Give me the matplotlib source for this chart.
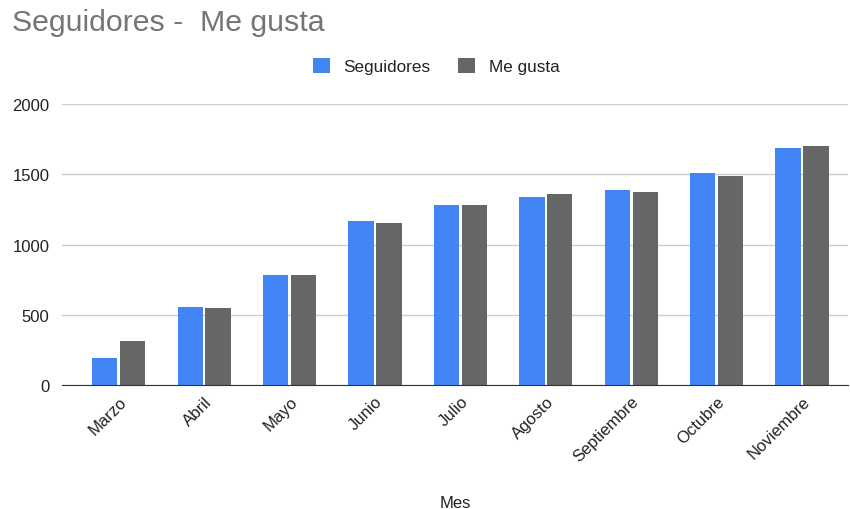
import numpy as np
import matplotlib
matplotlib.use('Agg')
import matplotlib.pyplot as plt

plt.rcParams['font.family'] = ['Liberation Sans', 'DejaVu Sans']

meses = ['Marzo', 'Abril', 'Mayo', 'Junio', 'Julio', 'Agosto',
         'Septiembre', 'Octubre', 'Noviembre']
seguidores = [195, 558, 782, 1168, 1281, 1335, 1390, 1508, 1690]
me_gusta = [312, 546, 782, 1153, 1281, 1359, 1371, 1487, 1702]

fig = plt.figure(figsize=(8.5, 5.1), dpi=100)
ax = fig.add_axes([0.0729, 0.243, 0.925, 0.551])

x = np.arange(len(meses))
w = 0.297
ax.bar(x - w / 2 - 0.015, seguidores, w, color='#4285f4', label='Seguidores', zorder=3)
ax.bar(x + w / 2 + 0.015, me_gusta, w, color='#666666', label='Me gusta', zorder=3)

ax.set_xlim(-0.665, 8.54)
ax.set_ylim(0, 2000)
ax.set_yticks([0, 500, 1000, 1500, 2000])
ax.grid(axis='y', color='#cccccc', linewidth=1, zorder=0)
for s in ['top', 'right', 'left']:
    ax.spines[s].set_visible(False)
ax.spines['bottom'].set_color('#333333')
ax.spines['bottom'].set_zorder(4)
ax.tick_params(axis='both', length=0, labelsize=12, colors='#222222')
ax.tick_params(axis='y', pad=9)
ax.tick_params(axis='x', pad=6)
ax.set_xticks(x)
ax.set_xticklabels(meses, rotation=45, ha='right', rotation_mode='anchor')
ax.set_xlabel('Mes', fontsize=12, color='#222222', labelpad=22)

# titulo y leyenda arriba
fig.text(0.014, 0.955, 'Seguidores -  Me gusta', fontsize=21.8, color='#757575', va='center')
fig.legend(loc='center', bbox_to_anchor=(0.513, 0.869), ncol=2, frameon=False,
           fontsize=12.3, handlelength=1.0, handleheight=1.0, columnspacing=1.6,
           handletextpad=0.8, labelcolor='#222222')

fig.savefig('out.png', dpi=100)
